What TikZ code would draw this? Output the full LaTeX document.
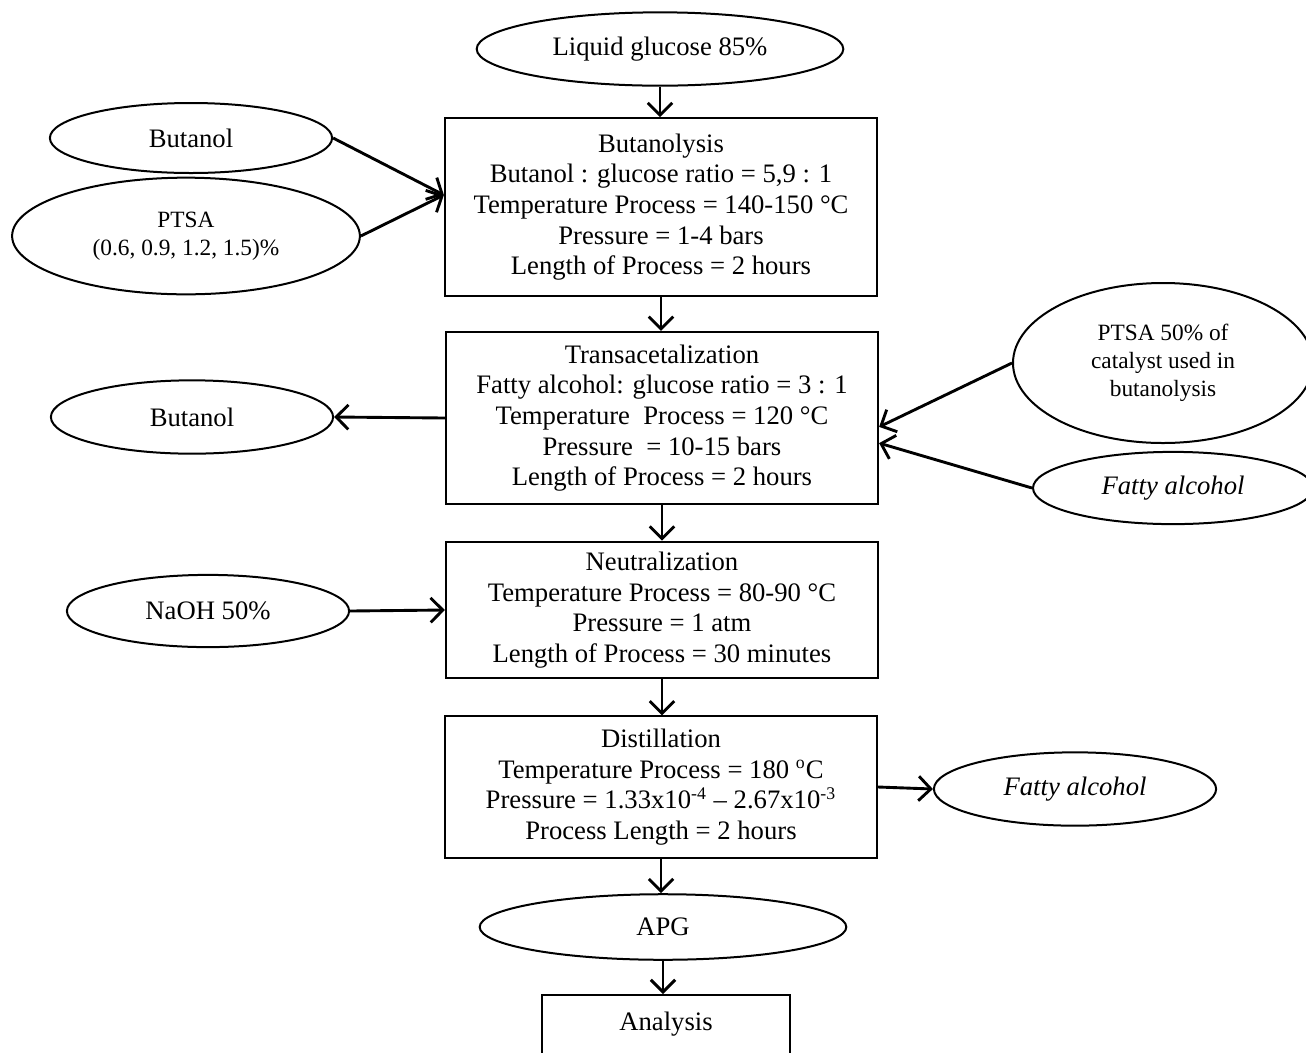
\documentclass[tikz,border=0pt]{standalone}
\usepackage{fontspec}
\setmainfont{Liberation Serif}
\usepackage{tikz}
\usetikzlibrary{shapes.geometric}
\usetikzlibrary{arrows.meta}

\begin{document}
\begin{tikzpicture}
		[x=0.45pt,y=-0.45pt,>={Straight Barb[length=5.5pt,width=11pt]},
		every node/.style={font=\fontsize{12}{13.8}\selectfont,line width=0.9pt},
		proc/.style={draw,rectangle,align=center,minimum width=194.5pt,inner sep=2pt},
		feed/.style={draw,ellipse,align=center,inner sep=0pt},
		smalltext/.style={font=\fontsize{10.5}{12.6}\selectfont},
		flow/.style={->,line width=1.3pt}]
		\useasboundingbox (0,0) rectangle (1306,1052);
		\node[feed,minimum width=165pt,minimum height=33pt] (glu) at (660,49) {Liquid glucose 85\%};
		\node[proc,minimum height=80pt] (buta) at (661,207) {Butanolysis\\Butanol : glucose ratio = 5,9 : 1\\Temperature Process = 140-150 °C\\Pressure = 1-4 bars\\Length of Process = 2 hours};
		\node[feed,minimum width=127pt,minimum height=31.5pt] (but1) at (191,138) {Butanol};
		\node[feed,smalltext,minimum width=156.5pt,minimum height=52.5pt] (ptsa) at (186,236) {PTSA\\(0.6, 0.9, 1.2, 1.5)\%};
		\node[proc,minimum height=77.5pt] (trans) at (662,418) {Transacetalization\\Fatty alcohol: glucose ratio = 3 : 1\\Temperature\ \ Process = 120 °C\\Pressure\ \ = 10-15 bars\\Length of Process = 2 hours};
		\node[feed,minimum width=127pt,minimum height=33pt] (but2) at (192,417) {Butanol};
		\node[feed,smalltext,minimum width=135pt,minimum height=72pt] (ptsa50) at (1163,363) {PTSA 50\% of\\catalyst used in\\butanolysis};
		\node[feed,minimum width=126pt,minimum height=32.5pt] (fat1) at (1173,488) {\itshape Fatty alcohol};
		\node[proc,minimum height=61.5pt] (neut) at (662,610) {Neutralization\\Temperature Process = 80-90 °C\\Pressure = 1 atm\\Length of Process = 30 minutes};
		\node[feed,minimum width=127pt,minimum height=32.5pt] (naoh) at (208,611) {NaOH 50\%};
		\node[proc,minimum height=63.5pt] (dist) at (661,787) {Distillation\\Temperature Process = 180 \textsuperscript{o}C\\Pressure = 1.33x10\textsuperscript{-4} – 2.67x10\textsuperscript{-3}\\Process Length = 2 hours};
		\node[feed,minimum width=127pt,minimum height=33pt] (fat2) at (1075,789) {\itshape Fatty alcohol};
		\node[feed,minimum width=165pt,minimum height=29.5pt] (apg) at (663,927) {APG};
		\node[draw,anchor=north,minimum width=111.5pt,inner ysep=7.5pt,text depth=30pt] (ana) at (666,994) {Analysis};
		
		\foreach \from/\to in 
		{glu/buta, buta/trans, trans/neut, neut/dist, dist/apg, apg/ana}
		\draw[flow] (\from.south) -- (\from.south |- \to.north);
		\draw[flow] (but1.east) -- ([yshift=5.4pt]buta.west);
		\draw[flow] (ptsa.east) -- ([yshift=5.4pt]buta.west);
		\draw[flow] (trans.west) -- (but2.east);
		\draw[flow] (ptsa50.west) -- ([yshift=-4pt]trans.east);
		\draw[flow] (fat1.west) -- ([yshift=-11.3pt]trans.east);
		\draw[flow] (naoh.east) -- (neut.west);
		\draw[flow] (dist.east) -- (fat2.west);
		\end{tikzpicture}
\end{document}
